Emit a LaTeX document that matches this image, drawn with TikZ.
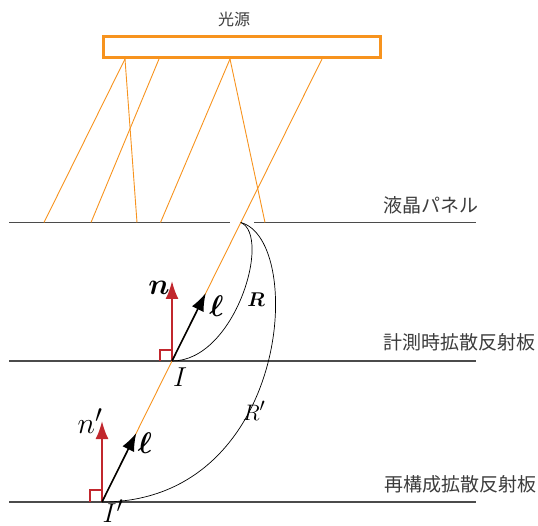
\documentclass[tikz,border=0pt]{standalone}
\usepackage{amsmath}
\usepackage{graphicx}
\usepackage{fontspec}
\newfontfamily\jpfont{Noto Sans CJK JP}
\usetikzlibrary{arrows.meta}
\definecolor{lightorange}{RGB}{247,147,30}
\definecolor{normalred}{RGB}{193,39,45}
\definecolor{labelgray}{RGB}{60,60,60}
\definecolor{linegray}{RGB}{75,75,75}
\newcommand{\biglbl}[2]{\scalebox{#1}{$#2$}}

\begin{document}
\begin{tikzpicture}[x=1pt, y=-1pt,
    ray/.style={lightorange, line width=0.9pt},
    plate/.style={linegray, line width=1.3pt},
    jplabel/.style={labelgray, font=\jpfont\fontsize{19}{19}\selectfont},
    mathlabel/.style={anchor=base, inner sep=0pt, font=\Huge},
    vecarrow/.style={-{Latex[length=18pt,width=13pt]}, line width=1.6pt},
    radius/.style={black, line width=0.7pt}]
    \useasboundingbox (0,0) rectangle (538,526);

    % LIGHT SOURCE
    \draw[lightorange, line width=2.6pt] (103.5,36.5) rectangle (380.5,57.5);
    \node[labelgray, font=\jpfont\fontsize{16}{16}\selectfont] (srclbl) at (234,19) {光源};
    % emission points
    \coordinate (s1) at (125,59);
    \coordinate (s2) at (159,59);
    \coordinate (s3) at (230,59);
    \coordinate (s4) at (322,59);

    % LCD PANEL (with a gap)
    \coordinate (p1) at (44,222.5);
    \coordinate (p2) at (91,222.5);
    \coordinate (p3) at (137,222.5);
    \coordinate (p4) at (160.5,222.5);
    \coordinate (p5) at (265,222.5);
    \coordinate (C) at (240.8,222.5);
    \draw[plate] (9,222.5) -- (230,222.5);
    \draw[plate] (254,222.5) -- (476,222.5);
    \node[jplabel] (lcdlbl) at (431,205) {液晶パネル};

    % REFLECTORS
    \coordinate (I) at (172,361);
    \coordinate (Ip) at (102,502);
    \draw[plate] (9,361) -- (476,361);
    \node[jplabel] (measlbl) at (459.5,342) {計測時拡散反射板};
    \draw[plate] (9,502) -- (476,502);
    \node[jplabel] (reclbl) at (460.5,484) {再構成拡散反射板};

    % Rays from the source
    \draw[ray] (s1) -- (p1);
    \draw[ray] (s1) -- (p3);
    \draw[ray] (s2) -- (p2);
    \draw[ray] (s3) -- (p4);
    \draw[ray] (s3) -- (p5);
    \draw[ray] (s4) -- (Ip);

    % Distances R and R'
    \draw[radius] (I) .. controls (235,361) and (272,236) .. (C);
    \draw[radius] (Ip) .. controls (290,502) and (306,240) .. (C);
    \node[mathlabel] (Rlbl) at (256,307) {\biglbl{0.8}{\boldsymbol{R}}};
    \node[mathlabel] (Rplbl) at (254,420) {\biglbl{0.9}{R'}};

    % Normals with right-angle marks
    \coordinate (ntip) at (172,281);
    \coordinate (nptip) at (102,421);
    \draw[normalred, line width=1.2pt] (160,361) -- (160,350) -- (172,350);
    \draw[normalred, line width=1.2pt] (90,502) -- (90,490) -- (102,490);
    \draw[vecarrow, normalred, line width=2pt] (I) -- (ntip);
    \draw[vecarrow, normalred, line width=2pt] (Ip) -- (nptip);
    \node[mathlabel] (nlbl) at (159,295) {\biglbl{1.2}{\boldsymbol{n}}};
    \node[mathlabel] (nplbl) at (90,433) {\biglbl{1.2}{n'}};

    % Direction vectors l
    \coordinate (ltip) at (205.8,293);
    \coordinate (lptip) at (136.3,433);
    \draw[vecarrow, black] (I) -- (ltip);
    \draw[vecarrow, black] (Ip) -- (lptip);
    \node[mathlabel] (llbl) at (216.5,317) {\biglbl{1.2}{\boldsymbol{\ell}}};
    \node[mathlabel] (lplbl) at (145,453) {\biglbl{1.2}{\boldsymbol{\ell}}};

    % Points
    \node[mathlabel] (Ilbl) at (180,387) {\biglbl{1.1}{I}};
    \node[mathlabel] (Iplbl) at (113,522) {\biglbl{1.1}{I'}};
\end{tikzpicture}
\end{document}
